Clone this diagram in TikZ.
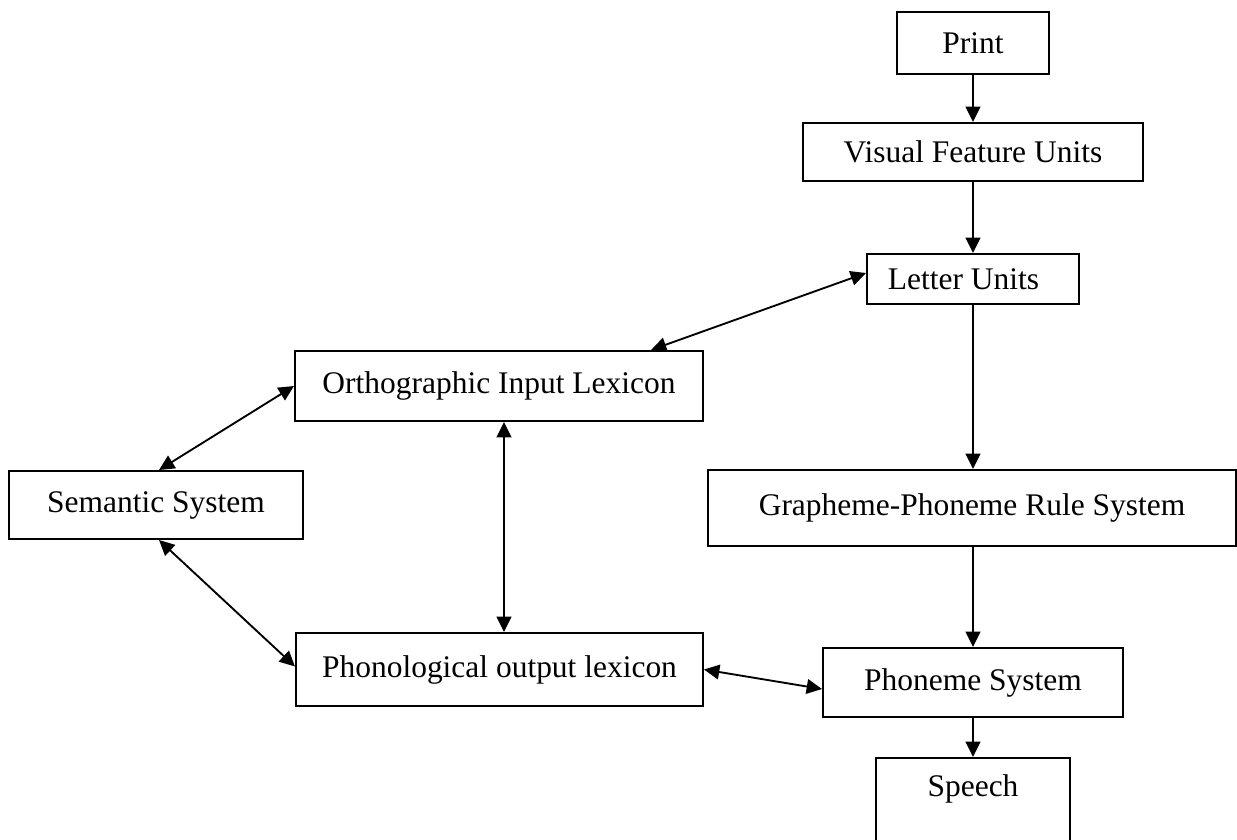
\documentclass[tikz,border=0pt]{standalone}
\usepackage{fontspec}
\setmainfont{Liberation Serif}
\usetikzlibrary{arrows.meta,calc}

% one drawing unit
\newlength\pxu
\setlength\pxu{0.75pt}

\tikzset{
  box/.style={draw, line width=1.5pt, rectangle, inner sep=0pt,
              font=\fontsize{23.6}{28}\selectfont},
  arr/.style={line width=1.4pt, -{Triangle[length=11.5pt,width=11pt]}},
  biarr/.style={line width=1.4pt,
                {Triangle[length=11.5pt,width=11pt]}-{Triangle[length=11.5pt,width=11pt]}},
}

\begin{document}
\begin{tikzpicture}[x=0.75pt,y=-0.75pt]
  \useasboundingbox (0,0) rectangle (1237,839);
  \fill[white] (0,0) rectangle (1237,839);
  \clip (0,0) rectangle (1237,839);

  % reading route boxes
  \node[box, minimum width=152\pxu, minimum height=62\pxu] (print)  at (973,43)  {Print};
  \node[box, minimum width=340\pxu, minimum height=58\pxu] (vfu)    at (973,152) {Visual Feature Units};
  \node[box, minimum width=212\pxu, minimum height=50\pxu] (letter) at (973,279) {Letter Units\kern0.6em};
  \node[box, minimum width=408\pxu, minimum height=70\pxu] (orth)   at (499,386) {Orthographic Input Lexicon};
  \node[box, minimum width=294\pxu, minimum height=68\pxu] (sem)    at (156,505) {Semantic System};
  \node[box, minimum width=528\pxu, minimum height=76\pxu] (gpc)    at (972,508) {\raisebox{3pt}{Grapheme-Phoneme Rule System}};
  \node[box, minimum width=407\pxu, minimum height=73\pxu] (phon)   at (499.5,669.5) {Phonological output lexicon};
  \node[box, minimum width=300\pxu, minimum height=69\pxu] (phoneme) at (973,682.5) {Phoneme System};
  \node[box, minimum width=194\pxu, minimum height=110\pxu, anchor=north,
        label={[anchor=center, yshift=-24pt, font=\fontsize{23.6}{28}\selectfont]north:Speech}]
        (speech) at (973,757) {};

  % one-way links down the right-hand column
  \draw[arr] (print.south) -- (vfu.north);
  \draw[arr] (vfu.south) -- (letter.north);
  \draw[arr] (letter.south) -- (letter.south |- gpc.north);
  \draw[arr] (gpc.south -| phoneme.north) -- (phoneme.north);
  \draw[arr] (phoneme.south) -- (speech.north);

  % two-way links
  \draw[biarr] ($(orth.north east)+(-53,0)$) -- ($(letter.west)+(0,-6)$);
  \draw[biarr] (orth.west) -- ($(sem.north)+(3,0)$);
  \draw[biarr] ($(orth.south)+(5,0)$) -- ($(phon.north)+(4.5,0)$);
  \draw[biarr] ($(sem.south)+(3,0)$) -- ($(phon.west)+(0,-3)$);
  \draw[biarr] (phon.east) -- ($(phoneme.west)+(0,6.5)$);
\end{tikzpicture}
\end{document}
